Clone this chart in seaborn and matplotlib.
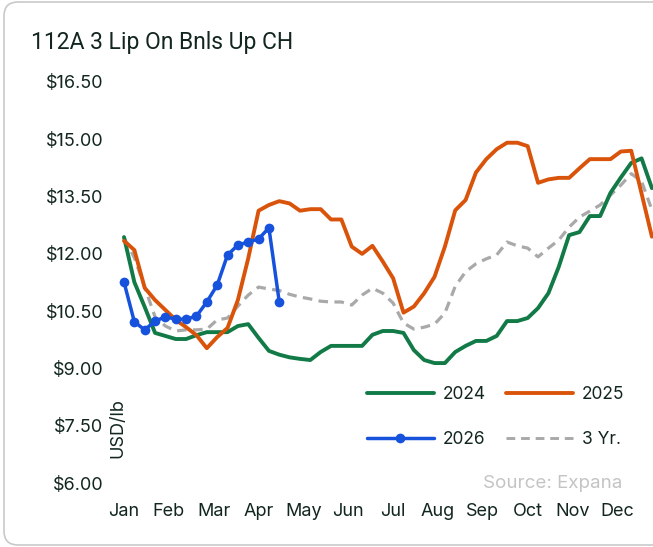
import numpy as np
import pandas as pd
import matplotlib
matplotlib.use("Agg")
import matplotlib.pyplot as plt
import seaborn as sns
from matplotlib.patches import FancyBboxPatch
from matplotlib.transforms import IdentityTransform
from matplotlib.lines import Line2D

# --- DATA (weekly, USD/lb) ---
months = ["Jan", "Feb", "Mar", "Apr", "May", "Jun", "Jul", "Aug", "Sep", "Oct", "Nov", "Dec"]

y2024 = [12.44, 11.26, 10.61, 9.93, 9.85, 9.77, 9.77, 9.87, 9.95, 9.95,
         9.95, 10.11, 10.16, 9.80, 9.46, 9.36, 9.29, 9.25, 9.22, 9.43,
         9.59, 9.59, 9.59, 9.59, 9.88, 9.98, 9.98, 9.93, 9.48, 9.22,
         9.14, 9.14, 9.43, 9.59, 9.72, 9.72, 9.85, 10.24, 10.24, 10.32,
         10.58, 10.97, 11.66, 12.49, 12.57, 12.99, 12.99, 13.60, 14.00, 14.38,
         14.50, 13.72]

y2025 = [12.34, 12.10, 11.11, 10.79, 10.53, 10.27, 10.08, 9.87, 9.53, 9.82,
         10.06, 10.79, 11.88, 13.13, 13.28, 13.38, 13.32, 13.13, 13.17, 13.17,
         12.90, 12.90, 12.19, 12.00, 12.21, 11.80, 11.36, 10.46, 10.62, 10.97,
         11.40, 12.19, 13.14, 13.41, 14.13, 14.48, 14.74, 14.91, 14.91, 14.82,
         13.86, 13.95, 13.99, 13.99, 14.24, 14.48, 14.48, 14.48, 14.68, 14.70,
         13.58, 12.45]

y2026 = [11.26, 10.22, 10.01, 10.24, 10.35, 10.29, 10.29, 10.37, 10.74, 11.18,
         11.97, 12.23, 12.31, 12.39, 12.68, 10.74]

y3yr = [12.42, 11.90, 11.13, 10.35, 10.11, 9.98, 10.01, 10.01, 10.03, 10.27,
        10.32, 10.63, 10.92, 11.13, 11.08, 11.04, 10.94, 10.87, 10.82, 10.76,
        10.74, 10.74, 10.66, 10.92, 11.10, 10.97, 10.71, 10.19, 10.03, 10.08,
        10.16, 10.45, 11.15, 11.53, 11.74, 11.87, 11.97, 12.31, 12.21, 12.15,
        11.92, 12.15, 12.36, 12.70, 12.96, 13.12, 13.28, 13.54, 13.80, 14.10,
        13.90, 13.15]

weeks = np.arange(len(y2024))
df = pd.DataFrame({"week": weeks, "2024": y2024, "2025": y2025, "3 Yr.": y3yr})
df26 = pd.DataFrame({"week": np.arange(len(y2026)), "2026": y2026})

# --- STYLE ---
sns.set_style("white")
plt.rcParams["font.family"] = ["Inter", "DejaVu Sans"]
txt = "#12261f"
c24, c25, c26, c3 = "#127a47", "#d9540a", "#1652dc", "#a9a9a9"

fig = plt.figure(figsize=(6.53, 5.47), dpi=100)
W, H = 653, 547
ax = fig.add_axes([113.65 / W, (H - 483) / H, 539.3 / W, 401 / H])

sns.lineplot(data=df, x="week", y="3 Yr.", ax=ax, color=c3, lw=2.3,
             linestyle=(0, (3, 2)), clip_on=False)
sns.lineplot(data=df, x="week", y="2024", ax=ax, color=c24, lw=2.8, clip_on=False)
sns.lineplot(data=df, x="week", y="2025", ax=ax, color=c25, lw=2.8, clip_on=False)
sns.lineplot(data=df26, x="week", y="2026", ax=ax, color=c26, lw=2.5,
             marker="o", markersize=7, markeredgewidth=0, clip_on=False)

ax.set_xlim(-1.0, 51.1)
ax.set_ylim(6.0, 16.5)
yt = np.arange(6.0, 16.51, 1.5)
ax.set_yticks(yt)
ax.set_yticklabels([f"${v:.2f}" for v in yt], fontsize=13, color=txt)
ax.set_xticks(np.arange(12) * 52 / 12)
ax.set_xticklabels(months, fontsize=13, color=txt)
ax.tick_params(axis="y", length=0, pad=7.5)
ax.tick_params(axis="x", length=0, pad=14.5)
ax.set_xlabel("")
ax.set_ylabel("")
for s in ax.spines.values():
    s.set_visible(False)

# --- LEGEND ---
handles = [
    Line2D([], [], color=c24, lw=2.8),
    Line2D([], [], color=c26, lw=2.5, marker="o", markersize=7, markeredgewidth=0),
    Line2D([], [], color=c25, lw=2.8),
    Line2D([], [], color=c3, lw=2.1, linestyle=(0, (3, 2))),
]
labels = ["2024", "2026", "2025", "3 Yr."]
leg = ax.legend(handles, labels, ncol=2, frameon=False, fontsize=12.5,
                loc="upper left", bbox_to_anchor=(367 / W, 1 - 386 / H),
                bbox_transform=fig.transFigure, borderpad=0, borderaxespad=0,
                handlelength=3.85, handletextpad=0.5, columnspacing=1.2,
                labelspacing=1.6)
for t in leg.get_texts():
    t.set_color(txt)

# --- TEXT ---
fig.text(31 / W, 1 - 42 / H, "112A 3 Lip On Bnls Up CH", fontsize=16.5,
         family=["Roboto", "DejaVu Sans"], color=txt, va="center", ha="left")
fig.text(118 / W, 1 - 428 / H, "USD/lb", rotation=90, fontsize=13,
         color=txt, va="center", ha="center")
fig.text(622 / W, 1 - 483 / H, "Source: Expana", fontsize=13.5,
         color="#c4c4c4", va="center", ha="right")

# outer card border
fig.patches.append(FancyBboxPatch((4, 2), 720, 543, boxstyle="round,pad=0,rounding_size=14",
                                  transform=IdentityTransform(), facecolor="none",
                                  edgecolor="#c9c9c9", lw=1.2, figure=fig))

fig.savefig("out.png", dpi=100)
